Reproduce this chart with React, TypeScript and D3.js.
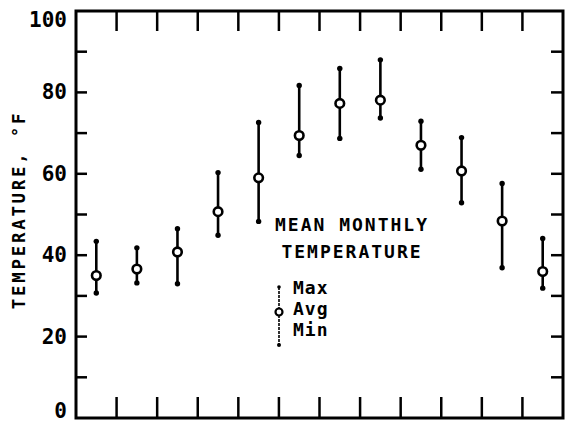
import { useEffect, useRef } from 'react';
import * as d3 from 'd3';

// Mean monthly temperature
const months = ['Jan', 'Feb', 'Mar', 'Apr', 'May', 'Jun', 'Jul', 'Aug', 'Sep', 'Oct', 'Nov', 'Dec'];
const maxTemp = [43.4, 41.8, 46.5, 60.3, 72.6, 81.7, 85.9, 88.0, 72.9, 68.9, 57.6, 44.1];
const avgTemp = [35.0, 36.6, 40.8, 50.7, 59.0, 69.4, 77.3, 78.1, 67.0, 60.7, 48.4, 36.0];
const minTemp = [30.7, 33.2, 33.0, 44.9, 48.3, 64.5, 68.7, 73.7, 61.1, 52.9, 36.9, 31.9];
const yLabels = [0, 20, 40, 60, 80, 100];
const yMinorTicks = [10, 30, 50, 70, 90];
const legendLines = ['MEAN MONTHLY', 'TEMPERATURE'];
const legendItems = ['Max', 'Avg', 'Min'];

const W = 565;
const H = 424;
const FONT = '"DejaVu Sans Mono", "Liberation Mono", monospace';

const App = () => {
  const svgRef = useRef<SVGSVGElement>(null);

  useEffect(() => {
    if (!svgRef.current) return;
    const svg = d3.select(svgRef.current);
    svg.selectAll('*').remove();

    const left = 76, right = 563, top = 11, bottom = 418;

    const x = d3.scaleBand().domain(months).range([left, right]);
    const y = d3.scaleLinear().domain([0, 100]).range([bottom, top]);

    const g = svg.append('g');

    // frame
    g.append('rect')
      .attr('x', left).attr('y', top)
      .attr('width', right - left).attr('height', bottom - top)
      .attr('fill', 'none').attr('stroke', '#000').attr('stroke-width', 3);

    // x ticks at month boundaries, top and bottom
    const bounds = months.slice(1).map(m => x(m) as number);
    g.selectAll('.xt-top').data(bounds).enter().append('line')
      .attr('x1', d => d).attr('x2', d => d)
      .attr('y1', top).attr('y2', top + 20)
      .attr('stroke', '#000').attr('stroke-width', 2.5);
    g.selectAll('.xt-bot').data(bounds).enter().append('line')
      .attr('x1', d => d).attr('x2', d => d)
      .attr('y1', bottom).attr('y2', bottom - 21)
      .attr('stroke', '#000').attr('stroke-width', 2.5);

    // y ticks on both sides
    const yTicks = [...yLabels.slice(1, -1), ...yMinorTicks];
    g.selectAll('.yt-l').data(yTicks).enter().append('line')
      .attr('x1', left).attr('x2', left + 11)
      .attr('y1', d => y(d)).attr('y2', d => y(d))
      .attr('stroke', '#000').attr('stroke-width', 2.5);
    g.selectAll('.yt-r').data(yTicks).enter().append('line')
      .attr('x1', right).attr('x2', right - 12)
      .attr('y1', d => y(d)).attr('y2', d => y(d))
      .attr('stroke', '#000').attr('stroke-width', 2.5);

    // y tick labels (end labels nudged inside the picture like the original)
    g.selectAll('.yl').data(yLabels).enter().append('text')
      .attr('x', left - 9)
      .attr('y', d => y(d) + (d === 100 ? 9 : d === 0 ? -7 : 0))
      .attr('text-anchor', 'end')
      .attr('dominant-baseline', 'central')
      .attr('font-family', FONT)
      .attr('font-weight', 'bold')
      .attr('font-size', 21)
      .attr('fill', '#000')
      .text(d => d.toString());

    // y axis title
    g.append('text')
      .attr('transform', `translate(25, 210) rotate(-90)`)
      .attr('text-anchor', 'middle')
      .attr('font-family', FONT)
      .attr('font-weight', 'bold')
      .attr('font-size', 17.5)
      .attr('letter-spacing', 2.7)
      .attr('fill', '#000')
      .text('TEMPERATURE, °F');

    // error bars
    const cx = (i: number) => (x(months[i]) as number) + x.bandwidth() / 2;
    const idx = d3.range(months.length);
    g.selectAll('.bar').data(idx).enter().append('line')
      .attr('x1', cx).attr('x2', cx)
      .attr('y1', i => y(maxTemp[i])).attr('y2', i => y(minTemp[i]))
      .attr('stroke', '#000').attr('stroke-width', 2.6);
    g.selectAll('.capHi').data(idx).enter().append('circle')
      .attr('cx', cx).attr('cy', i => y(maxTemp[i])).attr('r', 2.7).attr('fill', '#000');
    g.selectAll('.capLo').data(idx).enter().append('circle')
      .attr('cx', cx).attr('cy', i => y(minTemp[i])).attr('r', 2.7).attr('fill', '#000');
    g.selectAll('.avg').data(idx).enter().append('circle')
      .attr('cx', cx).attr('cy', i => y(avgTemp[i])).attr('r', 4.3)
      .attr('fill', '#fff').attr('stroke', '#000').attr('stroke-width', 2.6);

    // legend
    g.selectAll('.lt').data(legendLines).enter().append('text')
      .attr('x', 352)
      .attr('y', (_, i) => 231 + i * 27)
      .attr('text-anchor', 'middle')
      .attr('font-family', FONT)
      .attr('font-weight', 'bold')
      .attr('font-size', 18)
      .attr('letter-spacing', 2)
      .attr('fill', '#000')
      .text(d => d);

    const lx = 279;
    g.append('line')
      .attr('x1', lx).attr('x2', lx).attr('y1', 287).attr('y2', 345)
      .attr('stroke', '#000').attr('stroke-width', 1.6).attr('stroke-dasharray', '3,1');
    g.append('circle').attr('cx', lx).attr('cy', 287).attr('r', 1.8).attr('fill', '#000');
    g.append('circle').attr('cx', lx).attr('cy', 345).attr('r', 2).attr('fill', '#000');
    g.append('circle').attr('cx', lx).attr('cy', 312).attr('r', 3.5)
      .attr('fill', '#fff').attr('stroke', '#000').attr('stroke-width', 2.2);

    g.selectAll('.li').data(legendItems).enter().append('text')
      .attr('x', 293)
      .attr('y', (_, i) => 294 + i * 21)
      .attr('font-family', FONT)
      .attr('font-weight', 'bold')
      .attr('font-size', 18)
      .attr('letter-spacing', 1)
      .attr('fill', '#000')
      .text(d => d);
  }, []);

  return (
    <svg
      ref={svgRef}
      width={W}
      height={H}
      viewBox={`0 0 ${W} ${H}`}
      style={{ position: 'absolute', left: 0, top: 0, background: '#fff' }}
    />
  );
};

export default App;
